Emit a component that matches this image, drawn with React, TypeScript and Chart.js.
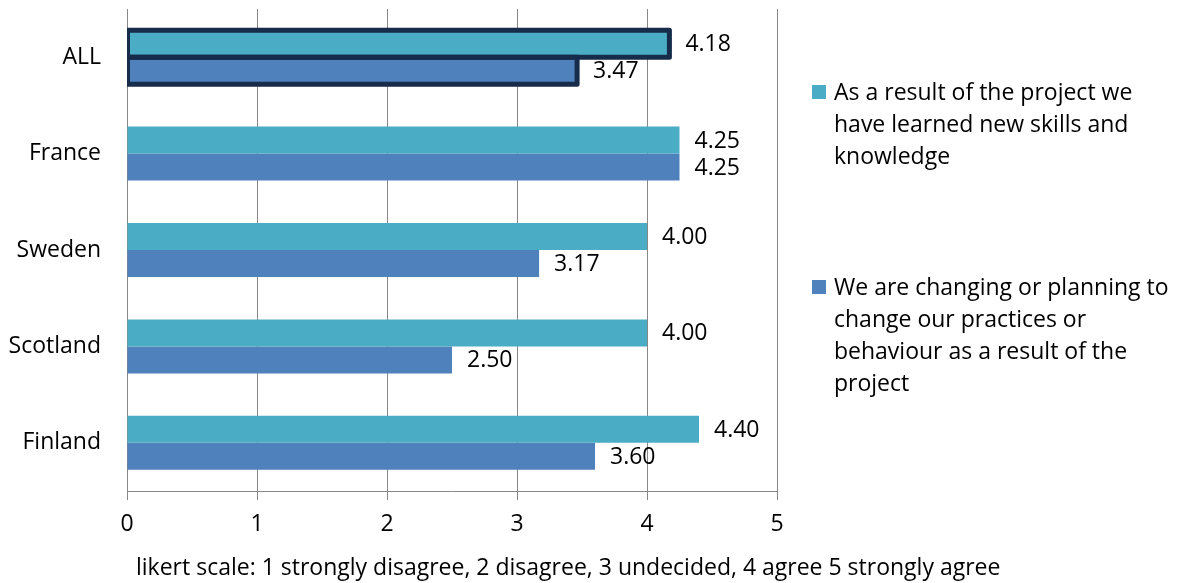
import React, { useEffect, useRef } from "react";
import { Chart, registerables } from "chart.js";

Chart.register(...registerables);

const categories = ["ALL", "France", "Sweden", "Scotland", "Finland"];
const skillsValues = [4.18, 4.25, 4.0, 4.0, 4.4];
const practiceValues = [3.47, 4.25, 3.17, 2.5, 3.6];
const xTicks = [0, 1, 2, 3, 4, 5];
const highlighted = [true, false, false, false, false];
const skillsLegend = ["As a result of the project we", "have learned new skills and", "knowledge"];
const practiceLegend = [
  "We are changing or planning to",
  "change our practices or",
  "behaviour as a result of the",
  "project",
];
const axisTitle = "likert scale: 1 strongly disagree, 2 disagree, 3 undecided, 4 agree 5 strongly agree";

const TEAL = "#4BACC6";
const BLUE = "#4F81BD";
const NAVY = "#172B4A";
const GRID = "#878787";
const FONT = "'Open Sans', sans-serif";
const FS = 23;

const overlayPlugin = {
  id: "overlay",
  afterDatasetsDraw(chart: any) {
    const ctx = chart.ctx;
    const area = chart.chartArea;
    ctx.save();
    // highlight borders (centered on bar edges)
    ctx.beginPath();
    ctx.rect(area.left, 0, chart.width - area.left, chart.height);
    ctx.clip();
    ctx.strokeStyle = NAVY;
    ctx.lineWidth = 5;
    ctx.lineJoin = "round";
    chart.data.datasets.forEach((_ds: any, di: number) => {
      const meta = chart.getDatasetMeta(di);
      meta.data.forEach((el: any, i: number) => {
        if (!highlighted[i]) return;
        const top = el.y - el.height / 2;
        ctx.strokeRect(el.base, top, el.x - el.base - 1, el.height);
      });
    });
    ctx.restore();

    ctx.save();
    ctx.font = `${FS}px ${FONT}`;
    ctx.fillStyle = "#000";
    ctx.textBaseline = "middle";
    ctx.textAlign = "left";
    chart.data.datasets.forEach((ds: any, di: number) => {
      const meta = chart.getDatasetMeta(di);
      meta.data.forEach((el: any, i: number) => {
        const v = ds.data[i];
        ctx.fillText(v.toFixed(2), el.x + 15, el.y + 1);
      });
    });
    // legend
    const items = [
      { color: TEAL, lines: skillsLegend, top: 92 },
      { color: BLUE, lines: practiceLegend, top: 287 },
    ];
    items.forEach((it) => {
      ctx.fillStyle = it.color;
      ctx.fillRect(812, it.top - 7, 14, 14);
      ctx.fillStyle = "#000";
      it.lines.forEach((ln, k) => {
        ctx.fillText(ln, 834, it.top + 1 + k * 32.3);
      });
    });
    // axis title
    ctx.fillText(axisTitle, 136, 568);
    ctx.restore();
  },
};

export default function App() {
  const ref = useRef<HTMLCanvasElement>(null);
  useEffect(() => {
    if (!ref.current) return;
    const chart = new Chart(ref.current, {
      type: "bar",
      data: {
        labels: categories,
        datasets: [
          {
            label: skillsLegend.join(" "),
            data: skillsValues,
            backgroundColor: TEAL,
            borderWidth: 0,
            categoryPercentage: 0.56,
            barPercentage: 1.0,
          },
          {
            label: practiceLegend.join(" "),
            data: practiceValues,
            backgroundColor: BLUE,
            borderWidth: 0,
            categoryPercentage: 0.56,
            barPercentage: 1.0,
          },
        ],
      },
      options: {
        indexAxis: "y",
        responsive: false,
        animation: false,
        devicePixelRatio: 1,
        layout: { padding: { top: 9, right: 404, left: 0, bottom: 0 } },
        plugins: { legend: { display: false }, tooltip: { enabled: false } },
        scales: {
          x: {
            min: 0,
            max: 5,
            afterBuildTicks: (s: any) => {
              s.ticks = xTicks.map((v) => ({ value: v }));
            },
            grid: { color: GRID, lineWidth: 1, tickLength: 9, drawTicks: true },
            border: { color: GRID, width: 1 },
            ticks: { color: "#000", font: { family: FONT, size: FS }, padding: 11, maxRotation: 0 },
            afterFit: (s: any) => {
              s.height = 92;
              s.paddingLeft = 0;
              s.paddingRight = 0;
            },
          },
          y: {
            grid: { display: false, drawTicks: false },
            border: { display: false },
            ticks: { color: "#000", font: { family: FONT, size: FS }, padding: 26 },
            afterFit: (s: any) => {
              s.width = 127;
              s.paddingTop = 0;
              s.paddingBottom = 0;
            },
          },
        },
      },
      plugins: [overlayPlugin],
    } as any);
    return () => chart.destroy();
  }, []);
  return (
    <div style={{ position: "absolute", left: 0, top: 0, width: 1181, height: 583, background: "#fff" }}>
      <canvas ref={ref} width={1181} height={583} style={{ width: 1181, height: 583 }} />
    </div>
  );
}
